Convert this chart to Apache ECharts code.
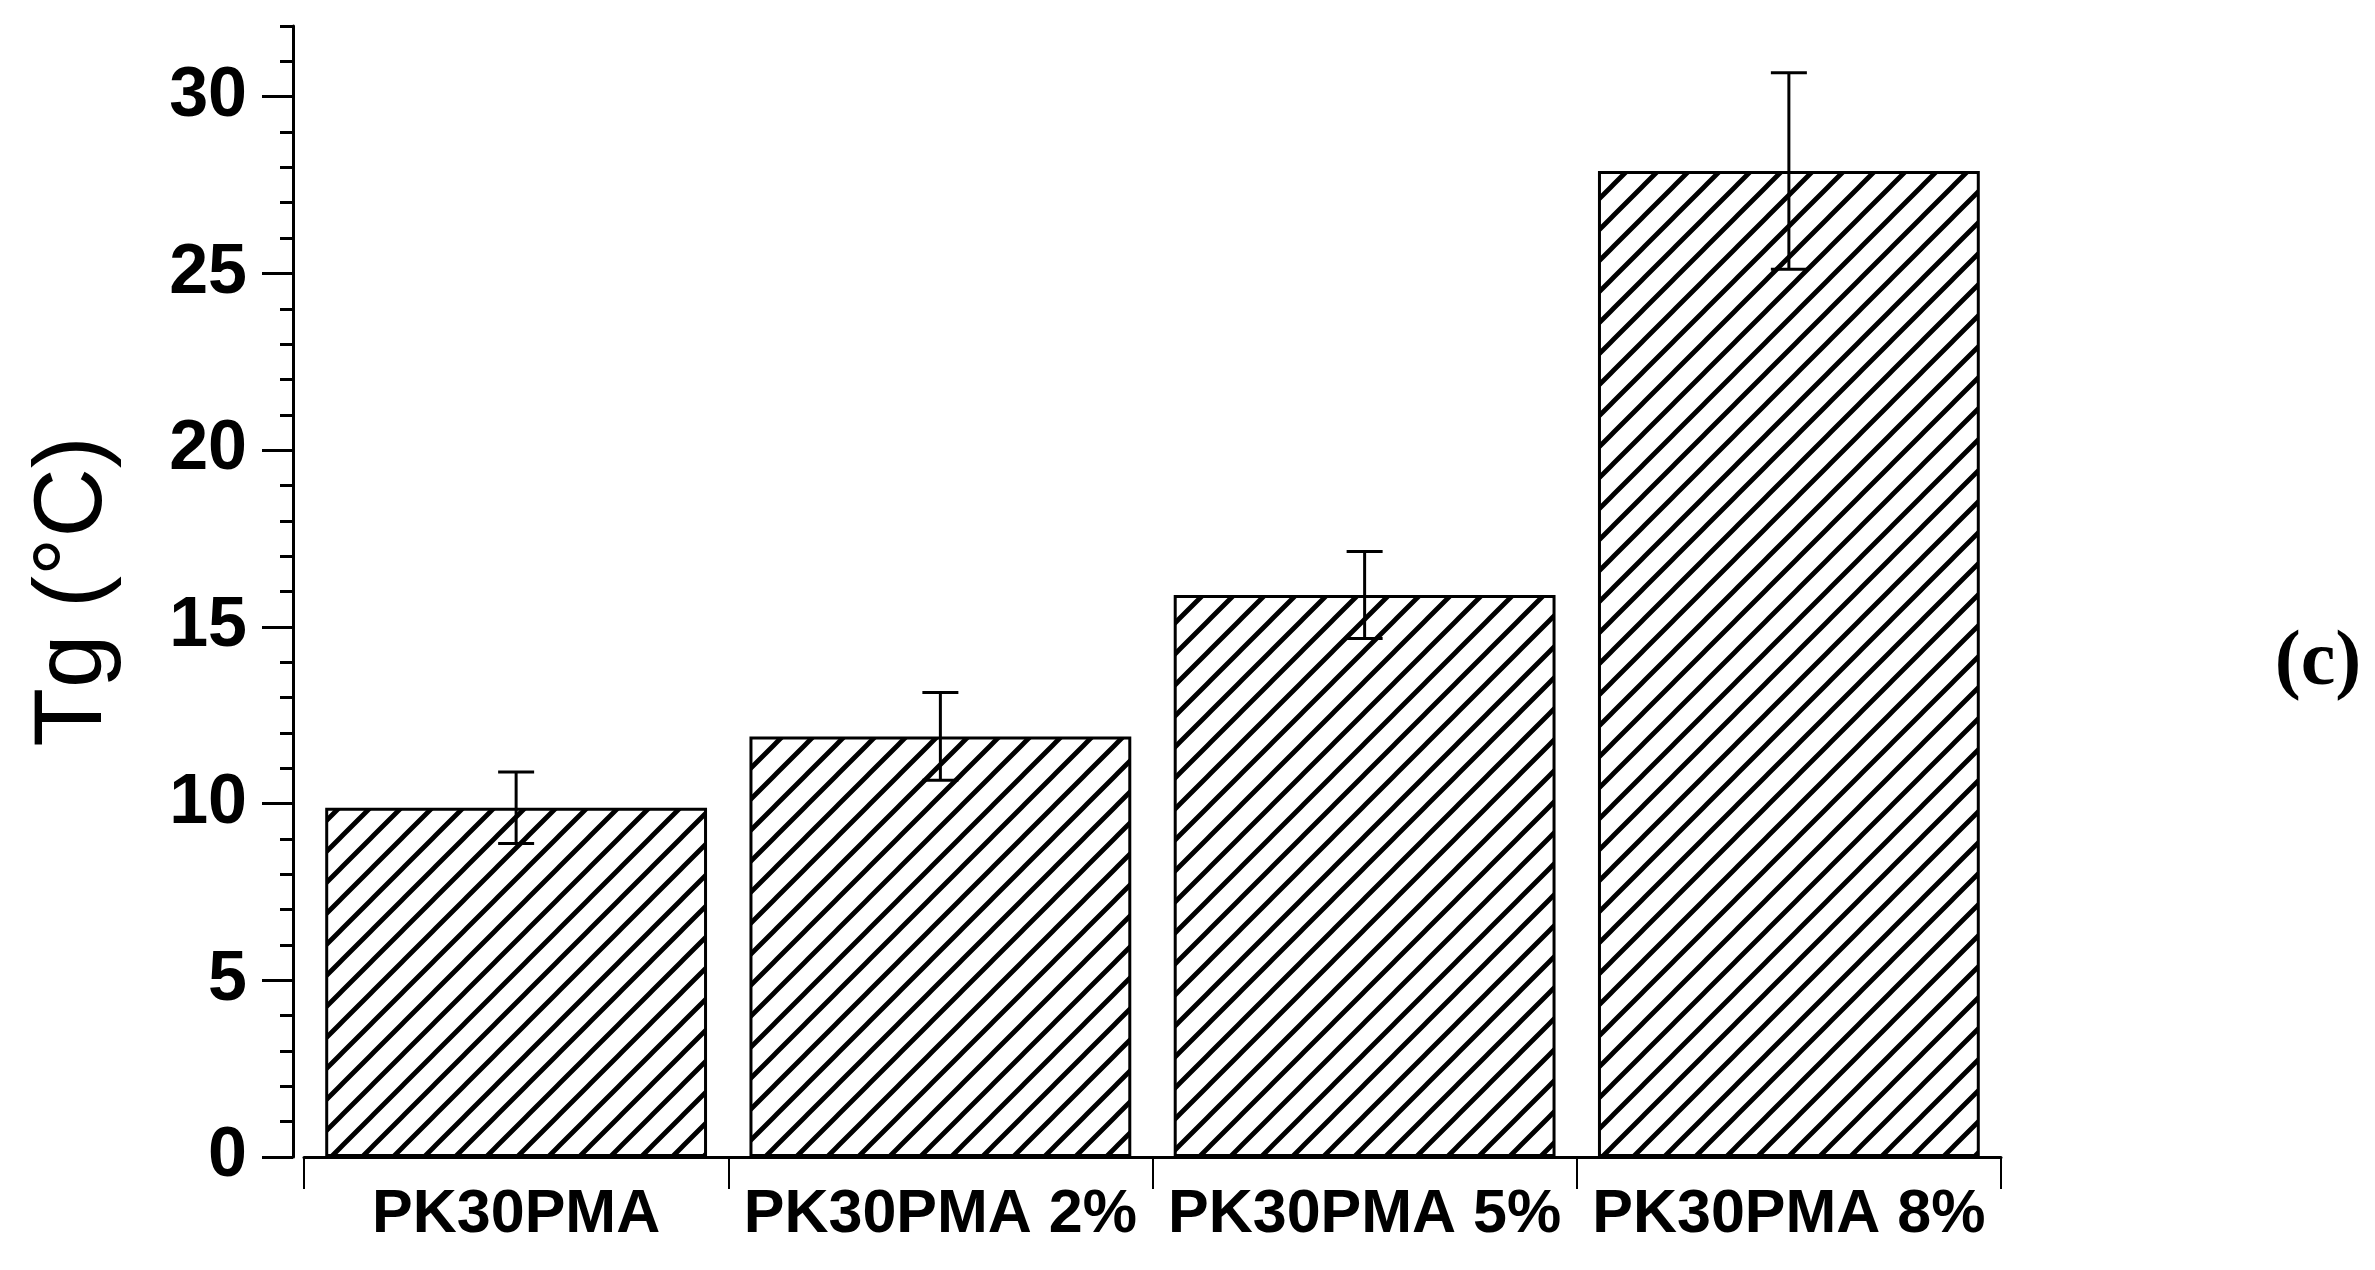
<!DOCTYPE html>
<html>
<head>
<meta charset="utf-8">
<script src="https://cdn.jsdelivr.net/npm/echarts@6/dist/echarts.min.js"></script>
<style>
  html, body { margin: 0; padding: 0; background: #fff; }
  #chart { width: 2375px; height: 1270px; }
</style>
</head>
<body>
<div id="chart"></div>
<script>
// values
const categories = ['PK30PMA', 'PK30PMA 2%', 'PK30PMA 5%', 'PK30PMA 8%']
const tgValues = [9.88, 11.9, 15.9, 27.9]
const tgErrors = [1.01, 1.24, 1.23, 2.78]
const majorTicks = [0, 5, 10, 15, 20, 25, 30]

// diagonal hatch tile, "/" lines
function hatchTile(s) {
  const c = document.createElement('canvas')
  c.width = s
  c.height = s
  const ctx = c.getContext('2d')
  ctx.fillStyle = '#fff'
  ctx.fillRect(0, 0, s, s)
  ctx.strokeStyle = '#000'
  ctx.lineWidth = 4.8
  ctx.beginPath()
  ctx.moveTo(-s, 2 * s); ctx.lineTo(2 * s, -s)
  ctx.moveTo(-s, s); ctx.lineTo(s, -s)
  ctx.moveTo(0, 2 * s); ctx.lineTo(2 * s, 0)
  ctx.stroke()
  return c
}

const gridBox = { left: 304, right: 374, top: 26, bottom: 113 }
const fontSans = 'Liberation Sans'

const chart = echarts.init(document.getElementById('chart'))

const option = {
  backgroundColor: '#fff',
  animation: false,
  grid: [
    Object.assign({}, gridBox),
    Object.assign({}, gridBox)
  ],
  graphic: [{
    type: 'text',
    x: 2318,
    y: 664,
    style: {
      text: '(c)',
      font: 'bold 78px "Liberation Serif"',
      fill: '#000',
      textAlign: 'center',
      textVerticalAlign: 'middle'
    }
  }],
  xAxis: [
    {
      gridIndex: 0,
      type: 'category',
      data: categories,
      offset: 6,
      axisLine: { show: true, lineStyle: { color: '#000', width: 3 } },
      axisTick: { show: true, interval: 0, length: 32, lineStyle: { color: '#000', width: 2 } },
      axisLabel: {
        interval: 0,
        margin: 22,
        color: '#000',
        fontFamily: fontSans,
        fontWeight: 'bold',
        fontSize: 61
      },
      splitLine: { show: false }
    },
    {
      gridIndex: 1,
      type: 'category',
      data: categories,
      show: false
    }
  ],
  yAxis: [
    {
      // minor ticks every 1
      gridIndex: 0,
      type: 'value',
      min: 0,
      max: 32,
      interval: 1,
      offset: 11,
      name: 'Tg (°C)',
      nameLocation: 'middle',
      nameGap: 170,
      nameTextStyle: {
        color: '#000',
        fontFamily: fontSans,
        fontSize: 96
      },
      axisLine: { show: true, lineStyle: { color: '#000', width: 3 } },
      axisTick: { show: true, length: 13, lineStyle: { color: '#000', width: 3 } },
      axisLabel: { show: false },
      splitLine: { show: false }
    },
    {
      // major ticks + labels
      gridIndex: 1,
      type: 'value',
      min: 0,
      max: 32,
      offset: 11,
      axisLine: { show: false },
      axisTick: {
        show: true,
        length: 31,
        customValues: majorTicks,
        lineStyle: { color: '#000', width: 3 }
      },
      axisLabel: {
        customValues: majorTicks,
        margin: 46,
        color: '#000',
        fontFamily: fontSans,
        fontWeight: 'bold',
        fontSize: 70
      },
      splitLine: { show: false }
    }
  ],
  series: [
    {
      type: 'bar',
      xAxisIndex: 0,
      yAxisIndex: 0,
      data: tgValues,
      barCategoryGap: '10%',
      z: 2,
      itemStyle: {
        color: { image: hatchTile(31), repeat: 'repeat' },
        borderColor: '#000',
        borderWidth: 3
      }
    },
    {
      type: 'custom',
      xAxisIndex: 0,
      yAxisIndex: 0,
      z: 5,
      data: tgValues.map((v, i) => [i, v, tgErrors[i]]),
      encode: { x: 0, y: 1 },
      renderItem(params, api) {
        const i = api.value(0)
        const v = api.value(1)
        const e = api.value(2)
        const hi = api.coord([i, v + e])
        const lo = api.coord([i, v - e])
        const w = 18
        const st = { stroke: '#000', lineWidth: 3 }
        return {
          type: 'group',
          children: [
            { type: 'line', shape: { x1: hi[0], y1: hi[1], x2: lo[0], y2: lo[1] }, style: st },
            { type: 'line', shape: { x1: hi[0] - w, y1: hi[1], x2: hi[0] + w, y2: hi[1] }, style: st },
            { type: 'line', shape: { x1: lo[0] - w, y1: lo[1], x2: lo[0] + w, y2: lo[1] }, style: st }
          ]
        }
      }
    }
  ]
}

chart.setOption(option)
</script>
</body>
</html>
